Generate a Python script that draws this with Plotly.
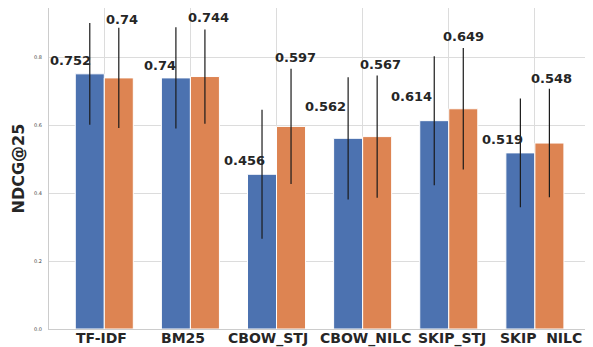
import plotly.graph_objects as go

categories = ["TF-IDF", "BM25", "CBOW_STJ", "CBOW_NILC", "SKIP_STJ", "SKIP  NILC"]
series_a = [0.752, 0.740, 0.456, 0.562, 0.614, 0.519]
series_b = [0.740, 0.744, 0.597, 0.567, 0.649, 0.548]
err_a = [0.150, 0.149, 0.190, 0.180, 0.190, 0.160]
err_b = [0.148, 0.139, 0.170, 0.180, 0.179, 0.160]
label_a = ["0.752", "0.74", "0.456", "0.562", "0.614", "0.519"]
label_b = ["0.74", "0.744", "0.597", "0.567", "0.649", "0.548"]
y_ticks = [0.0, 0.2, 0.4, 0.6, 0.8]

# label placement (annotation offsets, not data)
dy_a = [0.040, 0.037, 0.040, 0.093, 0.071, 0.039]
dy_b = [0.171, 0.173, 0.202, 0.213, 0.212, 0.190]
dx_a = [-19, -16, -18, -23, -23, -18]
dx_b = [3, 4, 4, 3, 0, 2]
dx_cat = [-2.5, -7, -8.5, 3, 3.5, 6.5]

xs = list(range(len(categories)))
C_A = "#4C72B0"
C_B = "#DD8452"
TXT = "#262626"

fig = go.Figure()
for vals, errs, col in [(series_a, err_a, C_A), (series_b, err_b, C_B)]:
    fig.add_trace(go.Bar(
        x=xs, y=vals,
        marker=dict(color=col, line=dict(color="white", width=1)),
        error_y=dict(type="data", array=errs, visible=True, width=0,
                     thickness=1.2, color="#1a1a1a"),
        showlegend=False,
    ))

half = 0.1685
anns = []
for i in xs:
    anns.append(dict(x=i - half, y=series_a[i] + dy_a[i], text=label_a[i],
                     xshift=dx_a[i], showarrow=False, yanchor="middle",
                     font=dict(family="DejaVu Sans", size=13, color=TXT, weight="bold")))
    anns.append(dict(x=i + half, y=series_b[i] + dy_b[i], text=label_b[i],
                     xshift=dx_b[i], showarrow=False, yanchor="middle",
                     font=dict(family="DejaVu Sans", size=13, color=TXT, weight="bold")))
    anns.append(dict(x=i, xref="x", y=0, yref="paper", text=categories[i],
                     xshift=dx_cat[i], yshift=1, showarrow=False, yanchor="top",
                     font=dict(family="DejaVu Sans", size=14, color=TXT, weight="bold")))
anns.append(dict(xref="paper", yref="paper", x=0, y=0.5, xanchor="center",
                 yanchor="middle", text="NDCG@25", textangle=-90, showarrow=False,
                 xshift=-31,
                 font=dict(family="DejaVu Sans", size=16, color=TXT, weight="bold")))

# the page body adds an 8px offset; size the figure to fit the window
fig.update_layout(
    width=585, height=339,
    margin=dict(l=41, r=3, t=0, b=18),
    paper_bgcolor="white", plot_bgcolor="white",
    barmode="group", bargap=0.326, bargroupgap=0.0,
    annotations=anns,
    font=dict(family="DejaVu Sans"),
    xaxis=dict(
        range=[-0.642, 5.64], tickmode="array", tickvals=xs, showticklabels=False,
        automargin=False,
        showgrid=True, gridcolor="#dcdcdc", gridwidth=1,
        showline=True, linecolor="#cccccc", linewidth=1, mirror=True,
        ticks="", zeroline=False,
    ),
    yaxis=dict(
        range=[0, 0.946], tickmode="array", tickvals=y_ticks,
        ticktext=["0.0", "0.2", "0.4", "0.6", "0.8"],
        tickfont=dict(family="DejaVu Sans", size=5, color="#444444"),
        automargin=False,
        showgrid=True, gridcolor="#dcdcdc", gridwidth=1,
        showline=True, linecolor="#cccccc", linewidth=1, mirror=True,
        ticks="", zeroline=False, ticklabelstandoff=5,
    ),
)

fig.write_html("out.html")
